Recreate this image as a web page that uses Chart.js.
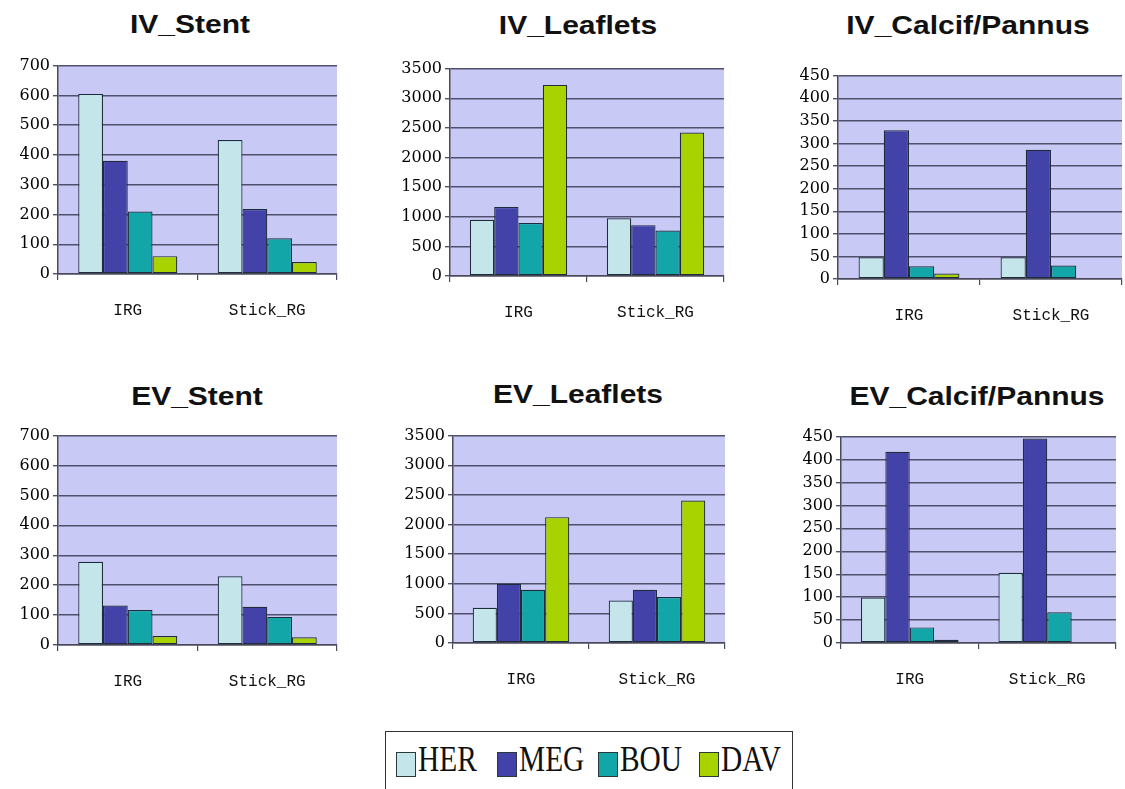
<!DOCTYPE html>
<html>
<head>
<meta charset="utf-8">
<script src="https://cdn.jsdelivr.net/npm/chart.js@4.4.1/dist/chart.umd.min.js"></script>
<style>
    body { margin: 0; background: #ffffff; width: 1125px; height: 789px; position: relative; overflow: hidden; }
    canvas { position: absolute; }
    .titulo {
        position: absolute;
        font: bold 25px "Liberation Sans", Arial, sans-serif;
        color: #111111;
        white-space: nowrap;
        transform: translate(-50%, -50%) scaleX(1.2);
    }
    #legenda {
        position: absolute;
        left: 385px; top: 731px;
        width: 408px; height: 62px;
        border: 1.5px solid #333333;
        box-sizing: border-box;
    }
    .quadrado {
        position: absolute;
        top: 20px;
        width: 18px; height: 23px;
        border: 1.5px solid #2a3a3a;
    }
    .rotulo {
        position: absolute;
        top: 9px;
        font: 35px "Liberation Serif", "Times New Roman", serif;
        line-height: 38px;
        color: #111111;
        transform: scaleX(0.84);
        transform-origin: left center;
    }
</style>
</head>
<body>
<div id="legenda"></div>
<script>
// Dados
const categorias = ['IRG', 'Stick_RG'];
const series = ['HER', 'MEG', 'BOU', 'DAV'];
const coresSeries = ['#c4e6ea', '#4242a8', '#12a6a8', '#a8d200'];
const titulos = ['IV_Stent', 'IV_Leaflets', 'IV_Calcif/Pannus', 'EV_Stent', 'EV_Leaflets', 'EV_Calcif/Pannus'];

// cada linha = uma série (HER, MEG, BOU, DAV), colunas = IRG, Stick_RG
const ivStent = [[605, 450], [380, 218], [210, 120], [60, 40]];
const ivLeaflets = [[950, 975], [1165, 858], [893, 768], [3225, 2422]];
const ivCalcif = [[48, 48], [329, 286], [28, 30], [12, 0]];
const evStent = [[278, 230], [132, 128], [117, 94], [30, 26]];
const evLeaflets = [[595, 718], [1000, 898], [898, 775], [2124, 2404]];
const evCalcif = [[99, 153], [417, 446], [34, 67], [7, 0]];

const valoresPaineis = [ivStent, ivLeaflets, ivCalcif, evStent, evLeaflets, evCalcif];
const eixoMax = [700, 3500, 450, 700, 3500, 450];
const eixoPasso = [100, 500, 50, 100, 500, 50];

// posição de cada área de plotagem na página (px)
const paineis = [
    { l: 58,  r: 337,  t: 65,  b: 274, tx: 190, ty: 24 },
    { l: 450, r: 724,  t: 68,  b: 276, tx: 578, ty: 25 },
    { l: 838, r: 1122, t: 75,  b: 279, tx: 968, ty: 25 },
    { l: 58,  r: 337,  t: 435, b: 645, tx: 197, ty: 396 },
    { l: 453, r: 725,  t: 435, b: 643, tx: 578, ty: 394 },
    { l: 841, r: 1116, t: 436, b: 643, tx: 977, ty: 396 }
];

const LARG_EIXO_Y = 55;
const ALT_EIXO_X = 50;
const PAD_TOPO = 12;
const PAD_DIR = 3;

// Pinta o fundo lilás da área de plotagem
const fundoPlot = {
    id: 'fundoPlot',
    beforeDraw(chart) {
        const { ctx, chartArea: a } = chart;
        ctx.save();
        ctx.fillStyle = '#c9c9f5';
        ctx.fillRect(a.left, a.top, a.right - a.left, a.bottom - a.top);
        ctx.restore();
    }
};

let chartsInstances = [];

function criarPainel(i) {
    const p = paineis[i];
    const canvas = document.createElement('canvas');
    const esquerda = p.l - LARG_EIXO_Y;
    const topo = p.t - PAD_TOPO;
    canvas.width = p.r - esquerda + PAD_DIR;
    canvas.height = p.b - p.t + PAD_TOPO + ALT_EIXO_X;
    canvas.style.left = esquerda + 'px';
    canvas.style.top = topo + 'px';
    document.body.appendChild(canvas);

    const titulo = document.createElement('div');
    titulo.className = 'titulo';
    titulo.textContent = titulos[i];
    titulo.style.left = p.tx + 'px';
    titulo.style.top = p.ty + 'px';
    document.body.appendChild(titulo);

    const valores = valoresPaineis[i];

    chartsInstances.push(new Chart(canvas.getContext('2d'), {
        type: 'bar',
        data: {
            labels: categorias,
            datasets: series.map((nome, k) => ({
                label: nome,
                data: valores[k],
                backgroundColor: coresSeries[k],
                borderColor: '#1e2c3c',
                borderWidth: 1.2,
                borderSkipped: false,
                categoryPercentage: 0.71,
                barPercentage: 1.0
            }))
        },
        options: {
            responsive: false,
            animation: false,
            layout: { padding: { top: PAD_TOPO, right: PAD_DIR, left: 0, bottom: 0 } },
            plugins: {
                legend: { display: false },
                title: { display: false },
                tooltip: { enabled: false }
            },
            scales: {
                x: {
                    afterFit: (scale) => { scale.height = ALT_EIXO_X; },
                    grid: {
                        drawOnChartArea: false,
                        drawTicks: true,
                        tickLength: 6,
                        color: '#4a4a5a',
                        lineWidth: 1.2
                    },
                    border: { color: '#4a4a5a', width: 1.5 },
                    ticks: {
                        padding: 21,
                        color: '#111111',
                        font: { family: '"Liberation Mono", "DejaVu Sans Mono", monospace', size: 16 }
                    }
                },
                y: {
                    min: 0,
                    max: eixoMax[i],
                    afterFit: (scale) => { scale.width = LARG_EIXO_Y; },
                    grid: {
                        color: '#50506c',
                        lineWidth: 1.4,
                        tickLength: 5
                    },
                    border: { color: '#4a4a5a', width: 1.5 },
                    ticks: {
                        stepSize: eixoPasso[i],
                        padding: 3,
                        color: '#000000',
                        callback: (v) => String(v),
                        font: { family: '"DejaVu Serif", "Liberation Serif", serif', size: 16 }
                    }
                }
            }
        },
        plugins: [fundoPlot]
    }));
}

for (let i = 0; i < paineis.length; i++) {
    criarPainel(i);
}

// Legenda montada a partir das séries
const legenda = document.getElementById('legenda');
series.forEach((nome, k) => {
    const base = 10 + k * 101;
    const q = document.createElement('span');
    q.className = 'quadrado';
    q.style.left = base + 'px';
    q.style.background = coresSeries[k];
    legenda.appendChild(q);

    const t = document.createElement('span');
    t.className = 'rotulo';
    t.style.left = (base + 22) + 'px';
    t.textContent = nome;
    legenda.appendChild(t);
});
</script>
</body>
</html>
